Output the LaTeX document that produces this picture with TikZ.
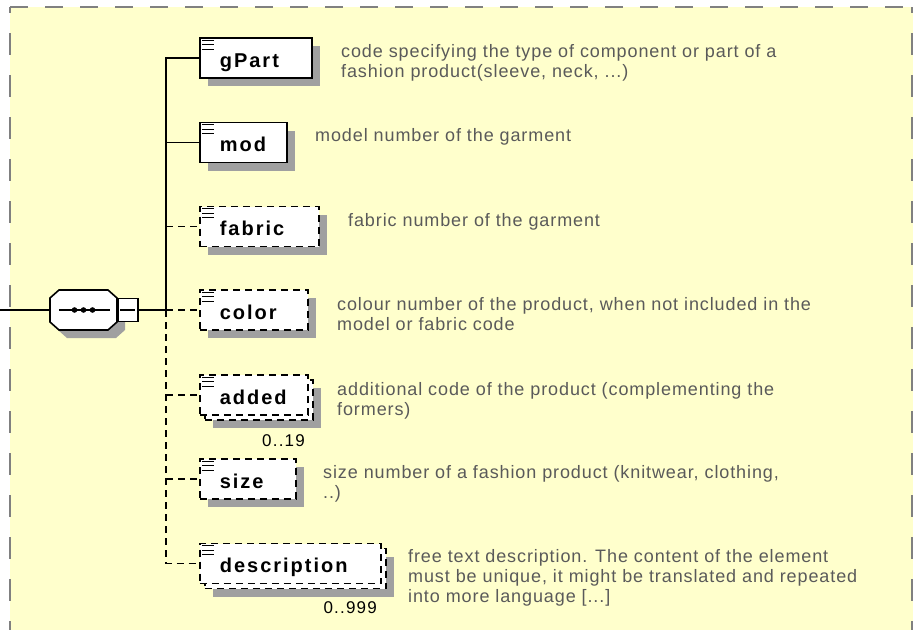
\documentclass[tikz,border=0pt]{standalone}
\usepackage{fontspec}
\setmainfont{Liberation Sans}
\newfontfamily\descfont{Liberation Sans}[LetterSpace=5]
\newfontfamily\cardfont{Liberation Sans}[LetterSpace=7]
\newfontfamily\namefont{Liberation Sans}[LetterSpace=10]
\usetikzlibrary{shadows}
\definecolor{panel}{RGB}{255,255,204}
\definecolor{framegray}{RGB}{128,128,128}
\definecolor{shadowgray}{RGB}{160,160,160}
\definecolor{descgray}{RGB}{90,90,90}

\begin{document}
\begin{tikzpicture}[x=1pt,y=-1pt,
  elem/.style={draw,fill=white,line width=1.6pt,anchor=west,inner xsep=20pt,inner ysep=0pt,
    minimum height=40pt,text height=18pt,text depth=0pt,
    font=\namefont\bfseries\fontsize{20}{20}\selectfont},
  optelem/.style={elem,dash pattern=on 7pt off 5pt},
  shade/.style={drop shadow={shadow xshift=8pt,shadow yshift=-8pt,fill=shadowgray,opacity=1}},
  multi/.style={drop shadow={shadow xshift=13pt,shadow yshift=-13pt,fill=shadowgray,opacity=1},
    copy shadow={shadow xshift=5pt,shadow yshift=-5pt,draw=black,fill=white,line width=1.6pt,
      dash pattern=on 7pt off 5pt}},
  desc/.style={anchor=base west,align=left,inner sep=0pt,text=descgray,
    font=\descfont\fontsize{18}{20}\selectfont},
  card/.style={anchor=base east,inner sep=0pt,font=\cardfont\fontsize{17}{20}\selectfont},
  conn/.style={line width=1.8pt},
  optconn/.style={conn,dash pattern=on 7pt off 5pt},
  icon/.style={line width=1.3pt}]
\useasboundingbox (0,0) rectangle (913,630);

% panel
\fill[panel] (10,7) rectangle (913,630);
\draw[framegray,line width=2pt,dash pattern=on 18pt off 17pt] (10,7) -- (913,7);
\draw[framegray,line width=2pt,dash pattern=on 22pt off 20pt,dash phase=16pt] (10,7) -- (10,630);
\draw[framegray,line width=2pt,dash pattern=on 22pt off 20pt,dash phase=16pt] (911.5,7) -- (911.5,630);

% sequence
\node[minimum width=67pt,minimum height=40pt,inner sep=0pt] (seq) at (83.5,310) {};
\filldraw[fill=white,line width=1.6pt,shade] (59,290) -- (108,290) -- (117,298) -- (117,322)
  -- (108,330) -- (59,330) -- (50,322) -- (50,298) -- cycle;
\node[draw,fill=white,line width=1.6pt,minimum width=20pt,minimum height=23pt,inner sep=0pt,
  anchor=west] (fold) at (seq.east) {};
\draw[line width=1.6pt] ([xshift=9]seq.west) -- ([xshift=-7]seq.east);
\fill ([xshift=-9]seq.center) circle[radius=2.8pt];
\fill (seq.center) circle[radius=2.8pt];
\fill ([xshift=9]seq.center) circle[radius=2.8pt];
\draw[line width=1.3pt] ([xshift=3]fold.west) -- ([xshift=-4]fold.east);

% elements
\node[elem,shade,text width=72pt] (gpart) at (199,58) {gPart};
\node[elem,shade,text width=47pt] (mod) at (199,142.5) {mod};
\node[optelem,shade,text width=79pt] (fabric) at (199,226.5) {fabric};
\node[optelem,shade,text width=68pt] (color) at (199,310) {color};
\node[optelem,multi,text width=68pt] (added) at (199,395) {added};
\node[optelem,shade,text width=56pt] (size) at (199,479) {size};
\node[optelem,multi,text width=141pt] (description) at (199,563.5) {description};

\draw[icon] ([shift={(3,3)}]gpart.north west) -- +(12,0) ++(0,4.5) -- +(12,0) ++(0,4.5) -- +(12,0);
\draw[icon] ([shift={(3,3)}]mod.north west) -- +(12,0) ++(0,4.5) -- +(12,0) ++(0,4.5) -- +(12,0);
\draw[icon] ([shift={(3,3)}]fabric.north west) -- +(12,0) ++(0,4.5) -- +(12,0) ++(0,4.5) -- +(12,0);
\draw[icon] ([shift={(3,3)}]color.north west) -- +(12,0) ++(0,4.5) -- +(12,0) ++(0,4.5) -- +(12,0);
\draw[icon] ([shift={(3,3)}]added.north west) -- +(12,0) ++(0,4.5) -- +(12,0) ++(0,4.5) -- +(12,0);
\draw[icon] ([shift={(3,3)}]size.north west) -- +(12,0) ++(0,4.5) -- +(12,0) ++(0,4.5) -- +(12,0);
\draw[icon] ([shift={(3,3)}]description.north west) -- +(12,0) ++(0,4.5) -- +(12,0) ++(0,4.5) -- +(12,0);

\node[card] (addedcard) at (305,446) {0..19};
\node[card] (desccard) at (377,613) {0..999};

% connectors
\coordinate (in) at (0,310);
\coordinate (trunk) at (166,310);
\draw[conn] (in) -- (seq);
\draw[conn] (fold) -- (trunk);
\draw[conn] (trunk) |- (gpart);
\draw[conn] (trunk |- mod) -- (mod);
\draw[optconn] (trunk |- fabric) -- (fabric);
\draw[optconn] (trunk) -- (color);
\draw[optconn] (trunk |- added) -- (added);
\draw[optconn] (trunk |- size) -- (size);
\draw[optconn] (trunk) |- (description);

% annotations (base = last line)
\node[desc] (gpartdesc) at (341,77) {code specifying the type of component or part of a\\fashion product(sleeve, neck, ...)};
\node[desc] (moddesc) at (315,141) {model number of the garment};
\node[desc] (fabricdesc) at (348,226) {fabric number of the garment};
\node[desc] (colordesc) at (337,330) {colour number of the product, when not included in the\\model or fabric code};
\node[desc] (addeddesc) at (337,415) {additional code of the product (complementing the\\formers)};
\node[desc] (sizedesc) at (323,498) {size number of a fashion product (knitwear, clothing,\\..)};
\node[desc] (descdesc) at (408,602) {free text description. The content of the element\\must be unique, it might be translated and repeated\\into more language [...]};
\end{tikzpicture}
\end{document}
